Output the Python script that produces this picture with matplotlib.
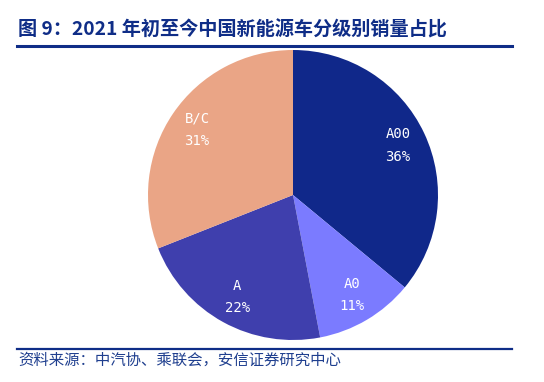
import matplotlib
matplotlib.use("Agg")
import matplotlib.pyplot as plt
from matplotlib.lines import Line2D

categories = ["A00", "A0", "A", "B/C"]
shares = [36, 11, 22, 31]
colors = ["#10288a", "#7b7bff", "#3f3fad", "#eaa586"]
title = "图 9：2021 年初至今中国新能源车分级别销量占比"
source = "资料来源：中汽协、乘联会，安信证券研究中心"

W, H = 544, 382
fig = plt.figure(figsize=(W / 100, H / 100), dpi=100)

cx, cy, r = 293, 195, 145
ax = fig.add_axes([(cx - r) / W, (H - cy - r) / H, 2 * r / W, 2 * r / H])
wedges, texts = ax.pie(
    shares, colors=colors, startangle=90, counterclock=False,
    labels=[f"{c}\n{s}%" for c, s in zip(categories, shares)],
    labeldistance=0.8,
    textprops=dict(color="white", fontsize=10, family=["DejaVu Sans Mono"],
                   ha="center", va="center", linespacing=1.75),
    wedgeprops=dict(linewidth=0),
)
ax.set_aspect("equal")
ax.set_xlim(-1, 1)
ax.set_ylim(-1, 1)

fig.text(18 / W, 1 - 35 / H, title, fontsize=13.8, fontweight="bold", color="#0f2d87",
         family=["Noto Sans CJK SC", "DejaVu Sans"], va="baseline", ha="left")
fig.add_artist(Line2D([17 / W, 512 / W], [1 - 46 / H, 1 - 46 / H], color="#0f2d87", lw=2.2,
                      transform=fig.transFigure))
fig.add_artist(Line2D([17 / W, 512 / W], [1 - 349 / H, 1 - 349 / H], color="#0f2d87", lw=1.6,
                      transform=fig.transFigure))
fig.text(18 / W, 1 - 365 / H, source, fontsize=11.1, color="#1f3f8f", style="italic",
         family=["Noto Sans CJK SC", "DejaVu Sans"], va="baseline", ha="left")

fig.savefig("out.png", dpi=100)
